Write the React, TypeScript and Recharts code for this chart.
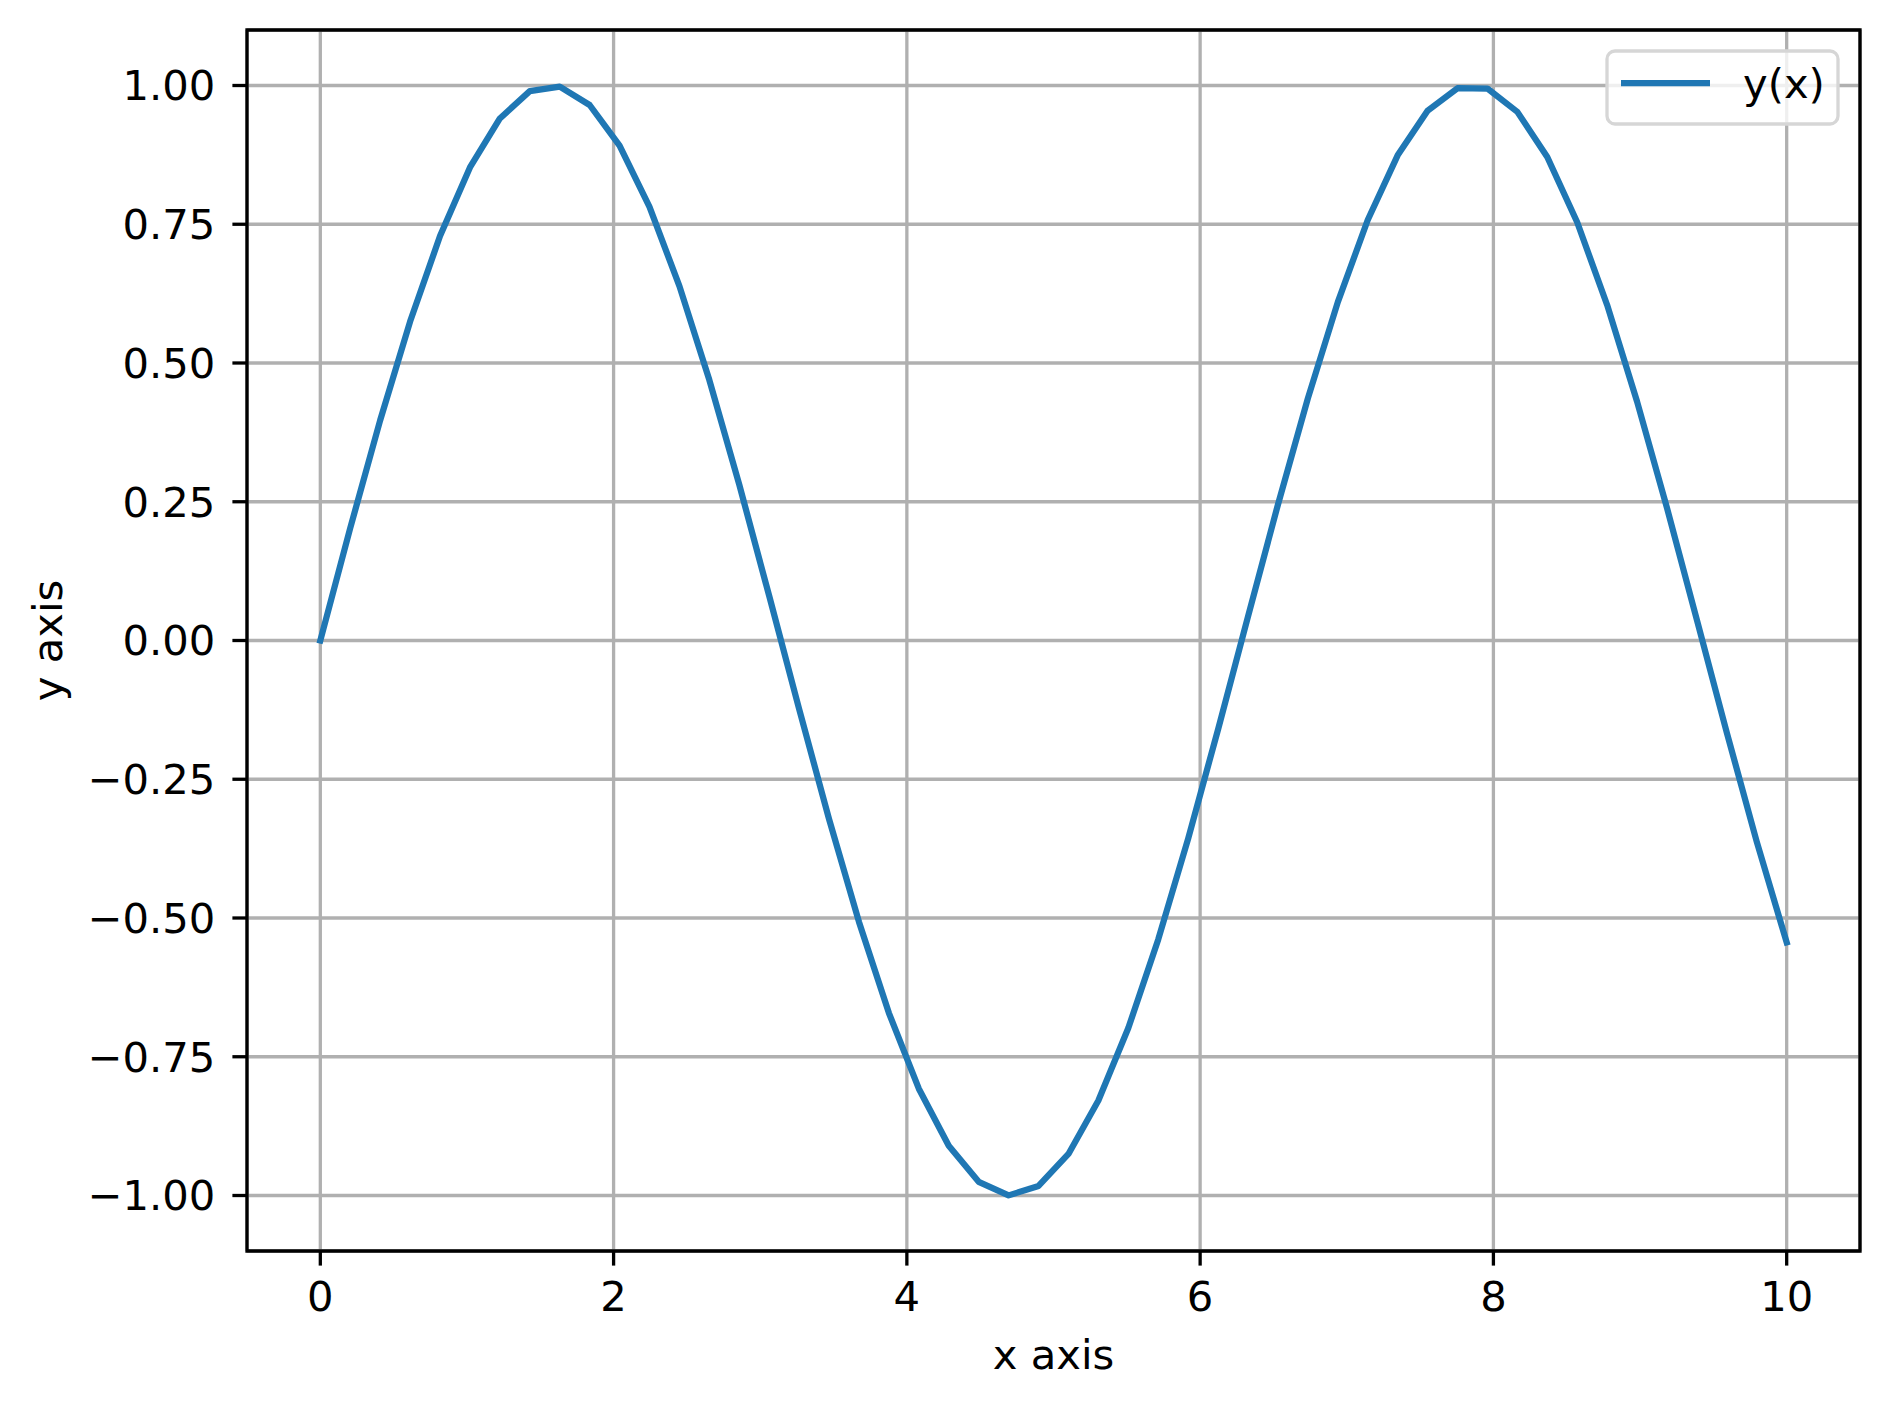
import React from "react";
import {
  LineChart,
  Line,
  XAxis,
  YAxis,
  CartesianGrid,
  Legend,
  ReferenceArea,
  Label,
} from "recharts";

const xValues = [
  0, 0.2041, 0.4082, 0.6122, 0.8163, 1.0204, 1.2245, 1.4286, 1.6327, 1.8367,
  2.0408, 2.2449, 2.449, 2.6531, 2.8571, 3.0612, 3.2653, 3.4694, 3.6735, 3.8776,
  4.0816, 4.2857, 4.4898, 4.6939, 4.898, 5.102, 5.3061, 5.5102, 5.7143, 5.9184,
  6.1224, 6.3265, 6.5306, 6.7347, 6.9388, 7.1429, 7.3469, 7.551, 7.7551, 7.9592,
  8.1633, 8.3673, 8.5714, 8.7755, 8.9796, 9.1837, 9.3878, 9.5918, 9.7959, 10,
];

const yValues = [
  0, 0.2027, 0.3969, 0.5747, 0.7287, 0.8523, 0.9406, 0.9899, 0.9981, 0.9649,
  0.8916, 0.7813, 0.6385, 0.4693, 0.2807, 0.0803, -0.1234, -0.3219, -0.5072, -0.6713,
  -0.8076, -0.9103, -0.9753, -0.9998, -0.9828, -0.9251, -0.8289, -0.6983, -0.5387, -0.3568,
  -0.1601, 0.0433, 0.2449, 0.4363, 0.6096, 0.7576, 0.8742, 0.9545, 0.9951, 0.9945,
  0.9525, 0.8711, 0.7535, 0.6046, 0.4306, 0.2388, 0.037, -0.1662, -0.3626, -0.544,
];

const xTicks = [0, 2, 4, 6, 8, 10];
const yTicks = [-1, -0.75, -0.5, -0.25, 0, 0.25, 0.5, 0.75, 1];

const seriesName = "y(x)";

const data = xValues.map((x, i) => ({ x, y: yValues[i] }));

const FONT = "DejaVu Sans";
const FS = 41.7;
const LINE_COLOR = "#1f77b4";

const formatY = (v: number) =>
  (v < 0 ? "\u2212" : "") + Math.abs(v).toFixed(2);

function LegendBox() {
  return (
    <svg width={240} height={82}>
      <rect
        x={4}
        y={4}
        width={231}
        height={73}
        rx={8}
        ry={8}
        fill="rgba(255,255,255,0.8)"
        stroke="#d6d6d6"
        strokeWidth={3.3}
      />
      <line
        x1={18}
        x2={107}
        y1={36}
        y2={36}
        stroke={LINE_COLOR}
        strokeWidth={6.25}
      />
      <text
        x={140}
        y={51}
        fontFamily={FONT}
        fontSize={FS}
        fill="#000"
      >
        {seriesName}
      </text>
    </svg>
  );
}

export default function App() {
  return (
    <div style={{ position: "absolute", left: 0, top: 0, background: "#fff" }}>
      <LineChart
        width={1890}
        height={1410}
        data={data}
        margin={{ top: 30, right: 30, left: 0, bottom: 0 }}
      >
        <CartesianGrid stroke="#b0b0b0" strokeWidth={3.3} />
        <XAxis
          type="number"
          dataKey="x"
          domain={[-0.5, 10.5]}
          ticks={xTicks}
          allowDataOverflow
          height={159}
          axisLine={false}
          tickLine={{ stroke: "#000", strokeWidth: 3.3 }}
          tickSize={14.6}
          tickMargin={16}
          tick={{ fill: "#000", fontFamily: FONT, fontSize: FS }}
          interval={0}
        >
          <Label
            value="x axis"
            position="insideBottom"
            offset={41}
            style={{ fill: "#000", fontFamily: FONT, fontSize: FS }}
          />
        </XAxis>
        <YAxis
          type="number"
          domain={[-1.1, 1.1]}
          ticks={yTicks}
          allowDataOverflow
          width={247}
          axisLine={false}
          tickLine={{ stroke: "#000", strokeWidth: 3.3 }}
          tickSize={14.6}
          tickMargin={17}
          tickFormatter={formatY}
          tick={{ fill: "#000", fontFamily: FONT, fontSize: FS }}
          interval={0}
        >
          <Label
            value="y axis"
            angle={-90}
            position="insideLeft"
            offset={47}
            style={{
              fill: "#000",
              fontFamily: FONT,
              fontSize: FS,
              textAnchor: "middle",
            }}
          />
        </YAxis>
        <Line
          type="linear"
          dataKey="y"
          name={seriesName}
          stroke={LINE_COLOR}
          strokeWidth={6.25}
          strokeLinejoin="round"
          strokeLinecap="square"
          dot={false}
          activeDot={false}
          isAnimationActive={false}
        />
        <ReferenceArea
          x1={-0.5}
          x2={10.5}
          y1={-1.1}
          y2={1.1}
          fill="none"
          fillOpacity={0}
          stroke="#000"
          strokeWidth={3.3}
          ifOverflow="visible"
        />
        <Legend
          layout="horizontal"
          verticalAlign="middle"
          align="center"
          content={() => <LegendBox />}
          wrapperStyle={{ left: 1603, top: 47, width: 240, height: 82 }}
        />
      </LineChart>
    </div>
  );
}
